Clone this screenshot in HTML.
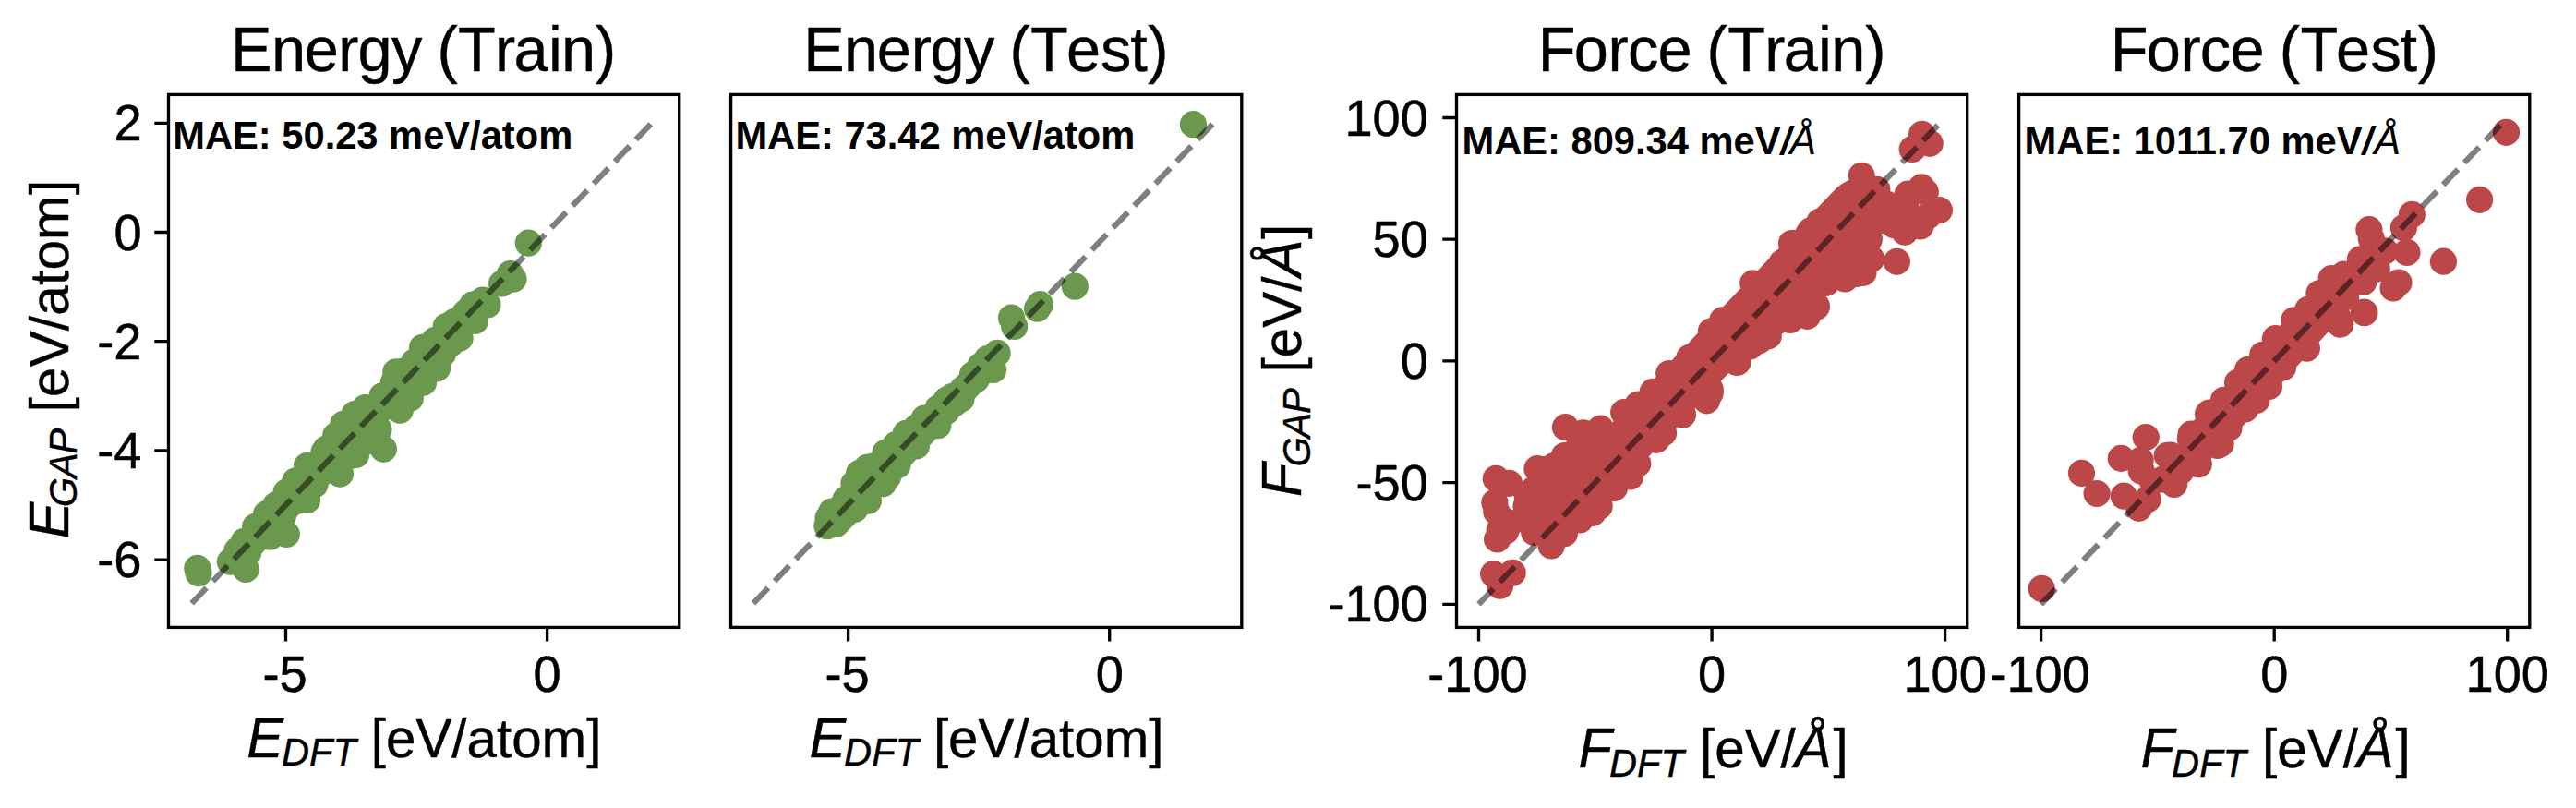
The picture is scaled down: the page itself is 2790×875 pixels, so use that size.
<!DOCTYPE html>
<html lang="en"><head><meta charset="utf-8"><title>GAP vs DFT parity plots</title>
<style>
html,body{margin:0;padding:0;background:#fff;}
body{width:2790px;height:875px;overflow:hidden;}
svg{display:block;}
text{font-family:"Liberation Sans",sans-serif;fill:#000;}
.tk{font-size:54.17px;stroke:#000;stroke-width:0.5px;}
.ti{font-size:66.67px;stroke:#000;stroke-width:0.4px;}
.lb{font-size:58.33px;stroke:#000;stroke-width:0.4px;}
.sub{font-size:41.6px;font-style:italic;}
.it{font-style:italic;font-size:59.5px;}
.mae .it{font-size:41.67px;}
.gap{letter-spacing:-1.2px;}
.lb .la{font-size:60.3px;}
.mae{font-size:41.67px;font-weight:bold;}
.ang{font-style:italic;font-weight:normal;font-size:43.3px;}
</style></head><body>
<svg width="2790" height="875" viewBox="0 0 2790 875">
<rect x="0" y="0" width="2790" height="875" fill="#fff"/>
<g id="panel1">
<clipPath id="clip1"><rect x="182.5" y="102.4" width="553.2" height="577"/></clipPath>
<g fill="#6A994E" clip-path="url(#clip1)">
<polyline points="262,597 515,332" fill="none" stroke="#6A994E" stroke-width="34" stroke-linecap="round" stroke-linejoin="round"/>
<circle cx="213.8" cy="615.4" r="14.6"/>
<circle cx="215" cy="620.6" r="14.6"/>
<circle cx="249.4" cy="608.2" r="14.6"/>
<circle cx="266.2" cy="616.4" r="14.6"/>
<circle cx="256.8" cy="596.3" r="14.6"/>
<circle cx="264.3" cy="586.4" r="14.6"/>
<circle cx="292.7" cy="581.2" r="14.6"/>
<circle cx="310.3" cy="578.5" r="14.6"/>
<circle cx="276.6" cy="570.3" r="14.6"/>
<circle cx="288.5" cy="556.7" r="14.6"/>
<circle cx="298.9" cy="546.8" r="14.6"/>
<circle cx="310" cy="533.2" r="14.6"/>
<circle cx="320" cy="520.8" r="14.6"/>
<circle cx="332.8" cy="504.8" r="14.6"/>
<circle cx="350.9" cy="489.9" r="14.6"/>
<circle cx="332.6" cy="541.4" r="14.6"/>
<circle cx="368" cy="512.9" r="14.6"/>
<circle cx="385.5" cy="492.4" r="14.6"/>
<circle cx="268.7" cy="598.3" r="14.6"/>
<circle cx="289" cy="579" r="14.6"/>
<circle cx="306.3" cy="559.2" r="14.6"/>
<circle cx="323.7" cy="541.9" r="14.6"/>
<circle cx="341" cy="524.6" r="14.6"/>
<circle cx="358.3" cy="507.2" r="14.6"/>
<circle cx="373.2" cy="494.9" r="14.6"/>
<circle cx="328.6" cy="527" r="14.6"/>
<circle cx="348.4" cy="509.7" r="14.6"/>
<circle cx="415.4" cy="486.3" r="14.6"/>
<circle cx="368.4" cy="513" r="14.6"/>
<circle cx="379.6" cy="493.5" r="14.6"/>
<circle cx="410" cy="465" r="14.6"/>
<circle cx="433.3" cy="444.2" r="14.6"/>
<circle cx="444.4" cy="431.1" r="14.6"/>
<circle cx="473.1" cy="398.9" r="14.6"/>
<circle cx="498.1" cy="366" r="14.6"/>
<circle cx="332.5" cy="504.6" r="14.6"/>
<circle cx="353.3" cy="486" r="14.6"/>
<circle cx="363.7" cy="471.7" r="14.6"/>
<circle cx="384" cy="448.7" r="14.6"/>
<circle cx="395.4" cy="441.5" r="14.6"/>
<circle cx="414" cy="428.9" r="14.6"/>
<circle cx="428.8" cy="402.9" r="14.6"/>
<circle cx="457.8" cy="377.1" r="14.6"/>
<circle cx="470.9" cy="368.5" r="14.6"/>
<circle cx="483.3" cy="357.3" r="14.6"/>
<circle cx="347.1" cy="513.3" r="14.6"/>
<circle cx="366.9" cy="493.5" r="14.6"/>
<circle cx="386.7" cy="473.7" r="14.6"/>
<circle cx="404.1" cy="456.3" r="14.6"/>
<circle cx="421.4" cy="439" r="14.6"/>
<circle cx="438.7" cy="421.7" r="14.6"/>
<circle cx="456" cy="404.4" r="14.6"/>
<circle cx="470.9" cy="387" r="14.6"/>
<circle cx="488.2" cy="372.2" r="14.6"/>
<circle cx="448.6" cy="392" r="14.6"/>
<circle cx="458.5" cy="414.3" r="14.6"/>
<circle cx="426.3" cy="414.3" r="14.6"/>
<circle cx="371.9" cy="459.3" r="14.6"/>
<circle cx="394.2" cy="479.1" r="14.6"/>
<circle cx="572.3" cy="263.2" r="14.6"/>
<circle cx="552.5" cy="296.6" r="14.6"/>
<circle cx="556" cy="302.1" r="14.6"/>
<circle cx="543.6" cy="307" r="14.6"/>
<circle cx="522.8" cy="325.1" r="14.6"/>
<circle cx="528" cy="330" r="14.6"/>
<circle cx="511.9" cy="330" r="14.6"/>
<circle cx="514.4" cy="347.4" r="14.6"/>
<circle cx="491.9" cy="348.6" r="14.6"/>
<circle cx="483.2" cy="353.6" r="14.6"/>
<circle cx="497.1" cy="366.2" r="14.6"/>
<circle cx="472.3" cy="368.4" r="14.6"/>
<circle cx="457.5" cy="376.3" r="14.6"/>
<circle cx="473.6" cy="398.1" r="14.6"/>
<circle cx="454.8" cy="388.2" r="14.6"/>
<circle cx="437.4" cy="401.8" r="14.6"/>
<circle cx="504.3" cy="338.7" r="14.6"/>
<circle cx="479.5" cy="383.3" r="14.6"/>
<circle cx="464.7" cy="398.1" r="14.6"/>
</g>
<line x1="207.6" y1="653.3" x2="705.8" y2="133.3" stroke="#000" stroke-opacity="0.5" stroke-width="6.25" stroke-dasharray="23.125 10" clip-path="url(#clip1)"/>
<rect x="182.5" y="102.4" width="553.2" height="577" fill="none" stroke="#000" stroke-width="3.33"/>
<path d="M309.5 679.4v15.2M592.6 679.4v15.2M182.5 133.3h-15.2M182.5 251.5h-15.2M182.5 369.7h-15.2M182.5 487.9h-15.2M182.5 606.1h-15.2" stroke="#000" stroke-width="3.33" fill="none"/>
<text class="tk" transform="translate(308.5 748.8) scale(1 1.03)" text-anchor="middle">-5</text>
<text class="tk" transform="translate(592.6 748.8) scale(1 1.03)" text-anchor="middle">0</text>
<text class="tk" transform="translate(153.5 152.4) scale(1 1.03)" text-anchor="end">2</text>
<text class="tk" transform="translate(153.5 270.6) scale(1 1.03)" text-anchor="end">0</text>
<text class="tk" transform="translate(153.5 388.8) scale(1 1.03)" text-anchor="end">-2</text>
<text class="tk" transform="translate(153.5 507) scale(1 1.03)" text-anchor="end">-4</text>
<text class="tk" transform="translate(153.5 625.2) scale(1 1.03)" text-anchor="end">-6</text>
<text class="ti" transform="translate(0 77.1) scale(1 1.03)" x="250 294 329.8 366.3 387.4 423.9 457.2 473.5 496 536 556.5 594 608.1 644.9">Energy (Train)</text>
<text class="lb" transform="translate(267.3 820.1) scale(1 1.03)"><tspan class="it" x="0">E</tspan><tspan class="sub" x="37.7" dy="8.54">DFT</tspan><tspan x="134.5" dy="-8.54">[eV/atom]</tspan></text>
<text class="lb" transform="translate(73.9 583.3) rotate(-90) scale(1 1.03)"><tspan class="it" x="0">E</tspan><tspan class="sub gap" x="34.1" dy="8.54">GAP</tspan><tspan x="136.8" dy="-8.54" letter-spacing="0.25">[eV/atom]</tspan></text>
<text class="mae" transform="translate(187.3 161.4) scale(1 1.03)">MAE: 50.23 meV/atom</text>
</g>
<g id="panel2">
<clipPath id="clip2"><rect x="791.6" y="102.4" width="553.2" height="577"/></clipPath>
<g fill="#6A994E" clip-path="url(#clip2)">
<polyline points="905,567 1068,397" fill="none" stroke="#6A994E" stroke-width="30" stroke-linecap="round" stroke-linejoin="round"/>
<circle cx="895.9" cy="569.6" r="14.6"/>
<circle cx="897.1" cy="560.9" r="14.6"/>
<circle cx="900.8" cy="554" r="14.6"/>
<circle cx="925.6" cy="551.5" r="14.6"/>
<circle cx="940.4" cy="542.3" r="14.6"/>
<circle cx="956.5" cy="523.8" r="14.6"/>
<circle cx="971.9" cy="504" r="14.6"/>
<circle cx="992.4" cy="482.9" r="14.6"/>
<circle cx="1015.9" cy="460.6" r="14.6"/>
<circle cx="1033.3" cy="437.1" r="14.6"/>
<circle cx="1048.1" cy="417.3" r="14.6"/>
<circle cx="924.9" cy="523.8" r="14.6"/>
<circle cx="930.5" cy="512.6" r="14.6"/>
<circle cx="939.2" cy="506.4" r="14.6"/>
<circle cx="959" cy="490.3" r="14.6"/>
<circle cx="981.3" cy="469.3" r="14.6"/>
<circle cx="1001.1" cy="453.2" r="14.6"/>
<circle cx="1015.9" cy="442.1" r="14.6"/>
<circle cx="1030.8" cy="429.7" r="14.6"/>
<circle cx="1053.1" cy="409.9" r="14.6"/>
<circle cx="912" cy="548.5" r="14.6"/>
<circle cx="921.9" cy="538.6" r="14.6"/>
<circle cx="941.7" cy="523.8" r="14.6"/>
<circle cx="959" cy="508.9" r="14.6"/>
<circle cx="976.3" cy="491.6" r="14.6"/>
<circle cx="993.7" cy="471.8" r="14.6"/>
<circle cx="1011" cy="454.5" r="14.6"/>
<circle cx="1025.8" cy="442.1" r="14.6"/>
<circle cx="1040.7" cy="424.8" r="14.6"/>
<circle cx="1055.5" cy="405" r="14.6"/>
<circle cx="934.3" cy="533.7" r="14.6"/>
<circle cx="949.1" cy="513.9" r="14.6"/>
<circle cx="903.3" cy="563.4" r="14.6"/>
<circle cx="916.2" cy="540.6" r="14.6"/>
<circle cx="945.4" cy="505.2" r="14.6"/>
<circle cx="970.1" cy="481.7" r="14.6"/>
<circle cx="992.4" cy="463.1" r="14.6"/>
<circle cx="961.5" cy="516.3" r="14.6"/>
<circle cx="1164.3" cy="310.1" r="14.6"/>
<circle cx="1126.4" cy="329.7" r="14.6"/>
<circle cx="1123.5" cy="334.2" r="14.6"/>
<circle cx="1095.5" cy="344.1" r="14.6"/>
<circle cx="1098.7" cy="353.5" r="14.6"/>
<circle cx="1080.1" cy="382.4" r="14.6"/>
<circle cx="1069.5" cy="388.6" r="14.6"/>
<circle cx="1075.7" cy="400.5" r="14.6"/>
<circle cx="1053.4" cy="405.9" r="14.6"/>
<circle cx="1043.5" cy="420.8" r="14.6"/>
<circle cx="1057.1" cy="410.9" r="14.6"/>
<circle cx="1034.9" cy="435.6" r="14.6"/>
<circle cx="1025" cy="433.2" r="14.6"/>
<circle cx="1062.1" cy="396" r="14.6"/>
<circle cx="1025" cy="445.5" r="14.6"/>
<circle cx="1041" cy="431.9" r="14.6"/>
<circle cx="1292.4" cy="134.7" r="14.6"/>
</g>
<line x1="816" y1="653.3" x2="1314.2" y2="133.3" stroke="#000" stroke-opacity="0.5" stroke-width="6.25" stroke-dasharray="23.125 10" clip-path="url(#clip2)"/>
<rect x="791.6" y="102.4" width="553.2" height="577" fill="none" stroke="#000" stroke-width="3.33"/>
<path d="M918.6 679.4v15.2M1201.7 679.4v15.2" stroke="#000" stroke-width="3.33" fill="none"/>
<text class="tk" transform="translate(917.6 748.8) scale(1 1.03)" text-anchor="middle">-5</text>
<text class="tk" transform="translate(1201.7 748.8) scale(1 1.03)" text-anchor="middle">0</text>
<text class="ti" transform="translate(0 77.1) scale(1 1.03)" x="870.3 913.9 949.7 986.7 1007.5 1043.9 1077.2 1093.5 1115.9 1155 1191.9 1224.2 1243.3">Energy (Test)</text>
<text class="lb" transform="translate(876.4 820.1) scale(1 1.03)"><tspan class="it" x="0">E</tspan><tspan class="sub" x="37.7" dy="8.54">DFT</tspan><tspan x="134.5" dy="-8.54">[eV/atom]</tspan></text>
<text class="mae" transform="translate(796.4 161.4) scale(1 1.03)">MAE: 73.42 meV/atom</text>
</g>
<g id="panel3">
<clipPath id="clip3"><rect x="1577.5" y="102.4" width="553.2" height="577"/></clipPath>
<g fill="#BC4749" clip-path="url(#clip3)">
<polyline points="1680,566 2008.4,222.5" fill="none" stroke="#BC4749" stroke-width="54" stroke-linecap="round" stroke-linejoin="round"/>
<circle cx="1617.6" cy="621.6" r="14.6"/>
<circle cx="1638.2" cy="620.3" r="14.6"/>
<circle cx="1624.6" cy="634.2" r="14.6"/>
<circle cx="1620.3" cy="518.4" r="14.6"/>
<circle cx="1634.5" cy="523.3" r="14.6"/>
<circle cx="1618.9" cy="544.4" r="14.6"/>
<circle cx="1620.8" cy="554.3" r="14.6"/>
<circle cx="1624.1" cy="574.1" r="14.6"/>
<circle cx="1621.6" cy="584" r="14.6"/>
<circle cx="1630.7" cy="575.3" r="14.6"/>
<circle cx="1635.7" cy="566.6" r="14.6"/>
<circle cx="1629.5" cy="564.2" r="14.6"/>
<circle cx="1664.9" cy="507.7" r="14.6"/>
<circle cx="1653" cy="548.1" r="14.6"/>
<circle cx="1661.7" cy="529.5" r="14.6"/>
<circle cx="1654.3" cy="536.9" r="14.6"/>
<circle cx="1682.7" cy="504.8" r="14.6"/>
<circle cx="1694.4" cy="493.6" r="14.6"/>
<circle cx="1674.1" cy="508.5" r="14.6"/>
<circle cx="1661.7" cy="576.5" r="14.6"/>
<circle cx="1680.2" cy="590.9" r="14.6"/>
<circle cx="1694.4" cy="577.8" r="14.6"/>
<circle cx="1711.2" cy="562.9" r="14.6"/>
<circle cx="1728.5" cy="546.3" r="14.6"/>
<circle cx="1748.3" cy="528.3" r="14.6"/>
<circle cx="1765.6" cy="512.2" r="14.6"/>
<circle cx="1654.3" cy="561.7" r="14.6"/>
<circle cx="1666.6" cy="554.3" r="14.6"/>
<circle cx="1679" cy="541.9" r="14.6"/>
<circle cx="1691.4" cy="529.5" r="14.6"/>
<circle cx="1703.8" cy="517.1" r="14.6"/>
<circle cx="1716.1" cy="504.8" r="14.6"/>
<circle cx="1728.5" cy="492.4" r="14.6"/>
<circle cx="1674.1" cy="574.1" r="14.6"/>
<circle cx="1688.9" cy="561.7" r="14.6"/>
<circle cx="1703.8" cy="549.3" r="14.6"/>
<circle cx="1718.6" cy="534.5" r="14.6"/>
<circle cx="1733.5" cy="519.6" r="14.6"/>
<circle cx="1750.8" cy="504.8" r="14.6"/>
<circle cx="1765.6" cy="492.4" r="14.6"/>
<circle cx="1666.6" cy="529.5" r="14.6"/>
<circle cx="1684" cy="512.2" r="14.6"/>
<circle cx="1698.8" cy="499.8" r="14.6"/>
<circle cx="1695.5" cy="462.7" r="14.6"/>
<circle cx="1733.4" cy="464" r="14.6"/>
<circle cx="1758.7" cy="446.6" r="14.6"/>
<circle cx="1774.3" cy="438" r="14.6"/>
<circle cx="1790.3" cy="424.4" r="14.6"/>
<circle cx="1807.7" cy="404.6" r="14.6"/>
<circle cx="1826.2" cy="394.7" r="14.6"/>
<circle cx="1838.6" cy="384.8" r="14.6"/>
<circle cx="1851" cy="372.4" r="14.6"/>
<circle cx="1863.4" cy="362.5" r="14.6"/>
<circle cx="1748.3" cy="528.3" r="14.6"/>
<circle cx="1765.6" cy="515.9" r="14.6"/>
<circle cx="1773.8" cy="502.3" r="14.6"/>
<circle cx="1794.1" cy="476.3" r="14.6"/>
<circle cx="1801.5" cy="468.9" r="14.6"/>
<circle cx="1822.5" cy="449.1" r="14.6"/>
<circle cx="1848.5" cy="433.8" r="14.6"/>
<circle cx="1852.2" cy="421.9" r="14.6"/>
<circle cx="1881.9" cy="392.2" r="14.6"/>
<circle cx="1895.5" cy="374.9" r="14.6"/>
<circle cx="1732.2" cy="548.1" r="14.6"/>
<circle cx="1724.8" cy="555.5" r="14.6"/>
<circle cx="1714.9" cy="468.9" r="14.6"/>
<circle cx="1709.9" cy="483.8" r="14.6"/>
<circle cx="1829.9" cy="387.3" r="14.6"/>
<circle cx="1853.4" cy="358.8" r="14.6"/>
<circle cx="1865.8" cy="346.9" r="14.6"/>
<circle cx="1894.3" cy="326.6" r="14.6"/>
<circle cx="1898.7" cy="306.8" r="14.6"/>
<circle cx="1919" cy="300.6" r="14.6"/>
<circle cx="1930.1" cy="284.6" r="14.6"/>
<circle cx="1940.5" cy="263.5" r="14.6"/>
<circle cx="1961.1" cy="249.9" r="14.6"/>
<circle cx="1971" cy="240" r="14.6"/>
<circle cx="1852.2" cy="425.6" r="14.6"/>
<circle cx="1880.6" cy="392.2" r="14.6"/>
<circle cx="1905.4" cy="368.7" r="14.6"/>
<circle cx="1915.3" cy="363.8" r="14.6"/>
<circle cx="1957.4" cy="342" r="14.6"/>
<circle cx="1967.3" cy="332.1" r="14.6"/>
<circle cx="1978.4" cy="305.6" r="14.6"/>
<circle cx="2010.6" cy="295.7" r="14.6"/>
<circle cx="1998.2" cy="301.9" r="14.6"/>
<circle cx="1938.8" cy="346.4" r="14.6"/>
<circle cx="1943.8" cy="334.1" r="14.6"/>
<circle cx="2081.6" cy="145.4" r="14.6"/>
<circle cx="2071.2" cy="161.5" r="14.6"/>
<circle cx="2090.2" cy="155.3" r="14.6"/>
<circle cx="2081.1" cy="202.8" r="14.6"/>
<circle cx="2066.2" cy="210.2" r="14.6"/>
<circle cx="2085.3" cy="207.8" r="14.6"/>
<circle cx="2100.4" cy="227.6" r="14.6"/>
<circle cx="2088.5" cy="233.8" r="14.6"/>
<circle cx="2079.9" cy="244.9" r="14.6"/>
<circle cx="2063" cy="251.1" r="14.6"/>
<circle cx="2051.4" cy="243.7" r="14.6"/>
<circle cx="2056.3" cy="228.8" r="14.6"/>
<circle cx="2063.8" cy="221.4" r="14.6"/>
<circle cx="2054.4" cy="283.3" r="14.6"/>
<circle cx="2016.2" cy="190.4" r="14.6"/>
<circle cx="2032.8" cy="205.3" r="14.6"/>
<circle cx="2006.8" cy="209" r="14.6"/>
<circle cx="1995.7" cy="221.4" r="14.6"/>
<circle cx="1977.1" cy="240" r="14.6"/>
<circle cx="1958.6" cy="253.6" r="14.6"/>
<circle cx="1942.5" cy="263.5" r="14.6"/>
<circle cx="2024.2" cy="258.5" r="14.6"/>
<circle cx="2039" cy="238.7" r="14.6"/>
<circle cx="2021.7" cy="221.4" r="14.6"/>
<circle cx="2026.6" cy="280.4" r="14.6"/>
<circle cx="2024.2" cy="259.4" r="14.6"/>
<circle cx="2018" cy="295.3" r="14.6"/>
<circle cx="2010.5" cy="296.5" r="14.6"/>
<circle cx="1977.1" cy="306.4" r="14.6"/>
<circle cx="1967.2" cy="331.2" r="14.6"/>
<circle cx="1957.3" cy="342.3" r="14.6"/>
<circle cx="1945" cy="341.1" r="14.6"/>
<circle cx="2001.9" cy="274.3" r="14.6"/>
<circle cx="1989.5" cy="286.6" r="14.6"/>
<circle cx="1964.8" cy="311.4" r="14.6"/>
<circle cx="1952.4" cy="323.8" r="14.6"/>
<circle cx="2009.3" cy="249.5" r="14.6"/>
<circle cx="1989.5" cy="261.9" r="14.6"/>
<circle cx="1743.4" cy="474.7" r="14.6"/>
<circle cx="1737" cy="480" r="14.6"/>
<circle cx="1923.4" cy="348.8" r="14.6"/>
<circle cx="2044" cy="221.4" r="14.6"/>
</g>
<line x1="1601.5" y1="654.3" x2="2105.6" y2="128.5" stroke="#000" stroke-opacity="0.5" stroke-width="6.25" stroke-dasharray="23.125 10" clip-path="url(#clip3)"/>
<rect x="1577.5" y="102.4" width="553.2" height="577" fill="none" stroke="#000" stroke-width="3.33"/>
<path d="M1601.5 679.4v15.2M1854.1 679.4v15.2M2106.6 679.4v15.2M1577.5 127.5h-15.2M1577.5 259.2h-15.2M1577.5 390.9h-15.2M1577.5 522.6h-15.2M1577.5 654.3h-15.2" stroke="#000" stroke-width="3.33" fill="none"/>
<text class="tk" transform="translate(1600.5 748.8) scale(1 1.03)" text-anchor="middle">-100</text>
<text class="tk" transform="translate(1854.1 748.8) scale(1 1.03)" text-anchor="middle">0</text>
<text class="tk" transform="translate(2106.6 748.8) scale(1 1.03)" text-anchor="middle">100</text>
<text class="tk" transform="translate(1546.8 146.6) scale(1 1.03)" text-anchor="end">100</text>
<text class="tk" transform="translate(1546.8 278.3) scale(1 1.03)" text-anchor="end">50</text>
<text class="tk" transform="translate(1546.8 410) scale(1 1.03)" text-anchor="end">0</text>
<text class="tk" transform="translate(1546.8 541.7) scale(1 1.03)" text-anchor="end">-50</text>
<text class="tk" transform="translate(1546.8 673.4) scale(1 1.03)" text-anchor="end">-100</text>
<text class="ti" transform="translate(0 77.1) scale(1 1.03)" x="1665.8 1704.8 1741.5 1763 1795.6 1832.7 1848.5 1871.3 1911.2 1931.7 1969 1983.3 2020.2">Force (Train)</text>
<text class="lb" transform="translate(1709.5 831.4) scale(1 1.03)"><tspan class="it" x="0">F</tspan><tspan class="sub" x="33.5" dy="9.42">DFT</tspan><tspan x="131.5" dy="-9.42">[eV/</tspan><tspan class="it la" x="234">Å</tspan><tspan x="276">]</tspan></text>
<text class="lb" transform="translate(1408.8 538) rotate(-90) scale(1 1.03)"><tspan class="it" x="0">F</tspan><tspan class="sub gap" x="32.4" dy="9.42">GAP</tspan><tspan x="134.6" dy="-9.42">[eV/</tspan><tspan class="it la" x="238.3">Å</tspan><tspan x="279.1">]</tspan></text>
<text class="mae" transform="translate(1583.5 167.1) scale(1 1.03)">MAE: 809.34 meV<tspan class="it">/</tspan><tspan class="ang" x="354.7">Å</tspan></text>
</g>
<g id="panel4">
<clipPath id="clip4"><rect x="2186.6" y="102.4" width="553.2" height="577"/></clipPath>
<g fill="#BC4749" clip-path="url(#clip4)">
<polyline points="2392,470 2522,327" fill="none" stroke="#BC4749" stroke-width="43" stroke-linecap="round" stroke-linejoin="round"/>
<circle cx="2211.2" cy="637.4" r="14.6"/>
<circle cx="2254.5" cy="512.4" r="14.6"/>
<circle cx="2271.1" cy="534.5" r="14.6"/>
<circle cx="2297.3" cy="496.4" r="14.6"/>
<circle cx="2300.3" cy="537.2" r="14.6"/>
<circle cx="2324.2" cy="473.5" r="14.6"/>
<circle cx="2318.2" cy="498.5" r="14.6"/>
<circle cx="2319.3" cy="510.2" r="14.6"/>
<circle cx="2350.9" cy="493.1" r="14.6"/>
<circle cx="2326.1" cy="540.7" r="14.6"/>
<circle cx="2316.6" cy="550.3" r="14.6"/>
<circle cx="2354.7" cy="524.4" r="14.6"/>
<circle cx="2331.6" cy="521.7" r="14.6"/>
<circle cx="2372.4" cy="475.4" r="14.6"/>
<circle cx="2377.9" cy="470" r="14.6"/>
<circle cx="2391.5" cy="448.2" r="14.6"/>
<circle cx="2380.6" cy="494.5" r="14.6"/>
<circle cx="2369.7" cy="502.6" r="14.6"/>
<circle cx="2405.1" cy="480.8" r="14.6"/>
<circle cx="2361.5" cy="510.8" r="14.6"/>
<circle cx="2342.5" cy="519" r="14.6"/>
<circle cx="2394.2" cy="467.2" r="14.6"/>
<circle cx="2405.1" cy="456.3" r="14.6"/>
<circle cx="2347.3" cy="493.3" r="14.6"/>
<circle cx="2373.1" cy="470.2" r="14.6"/>
<circle cx="2393" cy="447" r="14.6"/>
<circle cx="2408.5" cy="433.4" r="14.6"/>
<circle cx="2423.5" cy="414.4" r="14.6"/>
<circle cx="2434.4" cy="400.7" r="14.6"/>
<circle cx="2450.7" cy="384.4" r="14.6"/>
<circle cx="2464.4" cy="366.7" r="14.6"/>
<circle cx="2484.8" cy="346.8" r="14.6"/>
<circle cx="2499.8" cy="335.4" r="14.6"/>
<circle cx="2513.4" cy="321.8" r="14.6"/>
<circle cx="2524.3" cy="308.2" r="14.6"/>
<circle cx="2381.3" cy="502.8" r="14.6"/>
<circle cx="2401.7" cy="482.4" r="14.6"/>
<circle cx="2414" cy="463.4" r="14.6"/>
<circle cx="2431.7" cy="442.9" r="14.6"/>
<circle cx="2443.9" cy="433.4" r="14.6"/>
<circle cx="2457.5" cy="418.4" r="14.6"/>
<circle cx="2472.5" cy="398" r="14.6"/>
<circle cx="2498.4" cy="377.1" r="14.6"/>
<circle cx="2534.6" cy="351.2" r="14.6"/>
<circle cx="2560.5" cy="338.1" r="14.6"/>
<circle cx="2540.6" cy="321.8" r="14.6"/>
<circle cx="2559.7" cy="305.4" r="14.6"/>
<circle cx="2366.3" cy="501.5" r="14.6"/>
<circle cx="2385.4" cy="482.4" r="14.6"/>
<circle cx="2404.5" cy="463.4" r="14.6"/>
<circle cx="2420.8" cy="444.3" r="14.6"/>
<circle cx="2439.9" cy="422.5" r="14.6"/>
<circle cx="2456.2" cy="403.5" r="14.6"/>
<circle cx="2472.5" cy="384.4" r="14.6"/>
<circle cx="2488.9" cy="365.3" r="14.6"/>
<circle cx="2505.2" cy="349" r="14.6"/>
<circle cx="2521.5" cy="332.7" r="14.6"/>
<circle cx="2537.9" cy="313.6" r="14.6"/>
<circle cx="2714.5" cy="143.3" r="14.6"/>
<circle cx="2685.6" cy="216.3" r="14.6"/>
<circle cx="2646.4" cy="283.2" r="14.6"/>
<circle cx="2612.3" cy="232.4" r="14.6"/>
<circle cx="2603.4" cy="246.6" r="14.6"/>
<circle cx="2565.9" cy="248.7" r="14.6"/>
<circle cx="2568.3" cy="258.5" r="14.6"/>
<circle cx="2606.9" cy="273.4" r="14.6"/>
<circle cx="2556.4" cy="280.8" r="14.6"/>
<circle cx="2583.2" cy="271.9" r="14.6"/>
<circle cx="2574.3" cy="291.2" r="14.6"/>
<circle cx="2598" cy="306" r="14.6"/>
<circle cx="2592.1" cy="312" r="14.6"/>
<circle cx="2560.9" cy="338.7" r="14.6"/>
<circle cx="2525.2" cy="301.6" r="14.6"/>
<circle cx="2538.6" cy="297.1" r="14.6"/>
<circle cx="2511.9" cy="317.9" r="14.6"/>
<circle cx="2550.5" cy="306" r="14.6"/>
<circle cx="2535.6" cy="323.9" r="14.6"/>
<circle cx="2517.8" cy="335.7" r="14.6"/>
<circle cx="2532.7" cy="344.7" r="14.6"/>
<circle cx="2500" cy="335.7" r="14.6"/>
<circle cx="2559.4" cy="300.1" r="14.6"/>
</g>
<line x1="2210.6" y1="654.3" x2="2714.7" y2="128.5" stroke="#000" stroke-opacity="0.5" stroke-width="6.25" stroke-dasharray="23.125 10" clip-path="url(#clip4)"/>
<rect x="2186.6" y="102.4" width="553.2" height="577" fill="none" stroke="#000" stroke-width="3.33"/>
<path d="M2210.6 679.4v15.2M2463.2 679.4v15.2M2715.7 679.4v15.2" stroke="#000" stroke-width="3.33" fill="none"/>
<text class="tk" transform="translate(2209.6 748.8) scale(1 1.03)" text-anchor="middle">-100</text>
<text class="tk" transform="translate(2463.2 748.8) scale(1 1.03)" text-anchor="middle">0</text>
<text class="tk" transform="translate(2715.7 748.8) scale(1 1.03)" text-anchor="middle">100</text>
<text class="ti" transform="translate(0 77.1) scale(1 1.03)" x="2285.8 2324.8 2361.5 2382.8 2415.5 2452.6 2468.8 2491.4 2530 2567.6 2599.6 2618.7">Force (Test)</text>
<text class="lb" transform="translate(2318.6 831.4) scale(1 1.03)"><tspan class="it" x="0">F</tspan><tspan class="sub" x="33.5" dy="9.42">DFT</tspan><tspan x="131.5" dy="-9.42">[eV/</tspan><tspan class="it la" x="234">Å</tspan><tspan x="276">]</tspan></text>
<text class="mae" transform="translate(2192.6 167.1) scale(1 1.03)">MAE: 1011.70 meV<tspan class="it">/</tspan><tspan class="ang" x="378.7">Å</tspan></text>
</g>
</svg>
</body></html>
